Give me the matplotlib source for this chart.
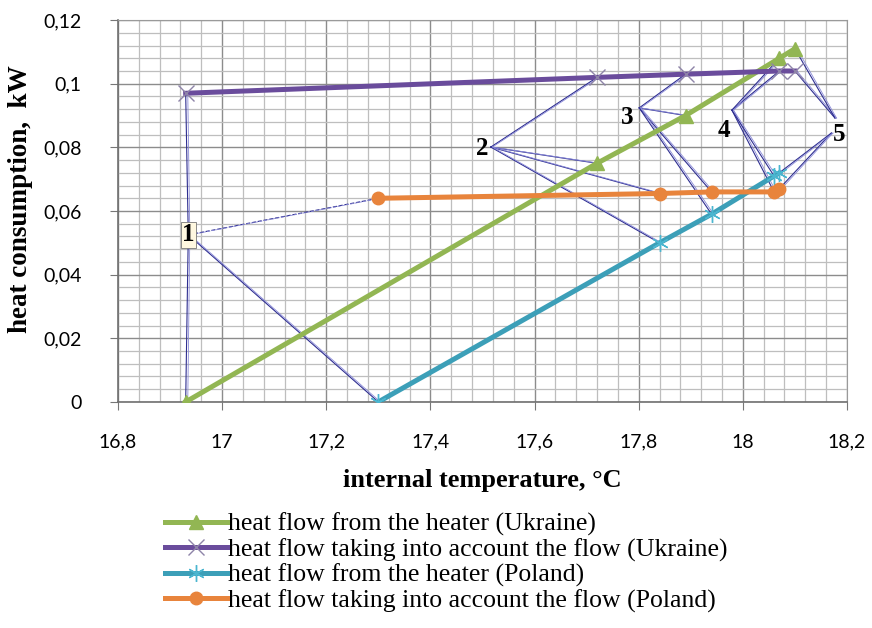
"""Heat consumption vs internal temperature — Ukraine / Poland comparison."""
import matplotlib
matplotlib.use("Agg")
import matplotlib.pyplot as plt
import numpy as np
from matplotlib.ticker import MultipleLocator, FuncFormatter

# Ukraine series (shared internal temperatures)
t_ua = [16.93, 17.72, 17.89, 18.07, 18.10]
q_ua_heater = [0.000, 0.075, 0.090, 0.108, 0.111]
q_ua_flow = [0.097, 0.102, 0.103, 0.104, 0.104]

# Poland series
t_pl = [17.30, 17.84, 17.94, 18.06, 18.07]
q_pl_heater = [0.000, 0.050, 0.059, 0.071, 0.072]
q_pl_flow = [0.064, 0.0655, 0.066, 0.066, 0.067]

# numbered callouts: text, text position, line anchor (upper, lower)
call_text = ["1", "2", "3", "4", "5"]
call_x = [16.935, 17.499, 17.778, 17.963, 18.185]
call_y = [0.0525, 0.0798, 0.0895, 0.0854, 0.0839]
anchor_top = [(16.935, 0.0525), (17.516, 0.0801), (17.801, 0.0924),
              (17.979, 0.0917), (18.177, 0.0892)]
anchor_bot = [(16.935, 0.0525), (17.516, 0.0801), (17.801, 0.0924),
              (17.979, 0.0917), (18.170, 0.0845)]

labels = ["heat flow from the heater (Ukraine)",
          "heat flow taking into account the flow (Ukraine)",
          "heat flow from the heater (Poland)",
          "heat flow taking into account the flow (Poland)"]

GREEN, PURPLE, CYAN, ORANGE = "#92B653", "#6A4C9C", "#3C9FB8", "#E8843C"
SERIF = ["Liberation Serif", "DejaVu Serif"]

fig = plt.figure(figsize=(8.72, 6.28), dpi=100)
ax = fig.add_axes([0.1353, 0.360, 0.836, 0.608])

# thin callout lines (drawn under the series)
for i in range(len(call_text)):
    if i == 0:
        top = [(t_ua[i], q_ua_flow[i]), (t_pl[i], q_pl_flow[i])]
        bot = [(t_ua[i], q_ua_heater[i]), (t_pl[i], q_pl_heater[i])]
    elif i >= 3:
        top = [(t_ua[i], q_ua_flow[i]), (t_ua[i], q_ua_heater[i])]
        bot = [(t_pl[i], q_pl_flow[i]), (t_pl[i], q_pl_heater[i])]
    else:
        top = [(t_ua[i], q_ua_flow[i]), (t_ua[i], q_ua_heater[i]),
               (t_pl[i], q_pl_flow[i])]
        bot = [(t_pl[i], q_pl_heater[i])]
    for anchor, targets in ((anchor_top[i], top), (anchor_bot[i], bot)):
        for tgt in targets:
            ls = "--" if (i == 0 and tgt == (t_pl[0], q_pl_flow[0])) else "-"
            ax.plot([anchor[0], tgt[0]], [anchor[1], tgt[1]], color="#2E2E90",
                    lw=0.8, ls=ls, zorder=2)
            ax.plot([anchor[0] + 0.003, tgt[0] + 0.004], [anchor[1], tgt[1]],
                    color="#8A8AD8", lw=0.6, ls=ls, zorder=2)

l1, = ax.plot(t_ua, q_ua_heater, color=GREEN, lw=3.6, marker="^", ms=10,
              mfc=GREEN, mec=GREEN, zorder=4)
l2, = ax.plot(t_ua, q_ua_flow, color=PURPLE, lw=3.6, marker="x", ms=11,
              mec="#8E84A8", mew=1.0, zorder=4)
l3, = ax.plot(t_pl, q_pl_heater, color=CYAN, lw=3.6, marker=(6, 2, 0), ms=12,
              mec="#4BB6D0", mew=1.0, zorder=4)
l4, = ax.plot(t_pl, q_pl_flow, color=ORANGE, lw=3.6, marker="o", ms=9,
              mfc=ORANGE, mec=ORANGE, zorder=4)

for i, s in enumerate(call_text):
    bbox = None
    if i == 0:
        bbox = dict(boxstyle="square,pad=0.06", fc="#FFF8E0", ec="#777777", lw=0.6)
    ax.text(call_x[i], call_y[i], s, family=SERIF, fontsize=18,
            fontweight="bold", ha="center", va="center", zorder=5, bbox=bbox)

ax.set_xlim(16.8, 18.2)
ax.set_ylim(0, 0.12)
ax.xaxis.set_major_locator(MultipleLocator(0.2))
ax.xaxis.set_minor_locator(MultipleLocator(0.04))
ax.yaxis.set_major_locator(MultipleLocator(0.02))
ax.yaxis.set_minor_locator(MultipleLocator(0.004))


def comma(v, pos):
    s = f"{v:.2f}".rstrip("0").rstrip(".")
    return s.replace(".", ",")


ax.xaxis.set_major_formatter(FuncFormatter(comma))
ax.yaxis.set_major_formatter(FuncFormatter(comma))
ax.grid(which="major", color="#8C8C8C", lw=1.0)
ax.grid(which="minor", color="#BEBEBE", lw=0.9)
ax.set_axisbelow(True)
ax.tick_params(which="major", direction="out", length=6, color="#777777",
               labelsize=14)
ax.tick_params(axis="x", pad=17)
ax.tick_params(axis="y", pad=20)
ax.tick_params(which="minor", length=0)
for lab in ax.get_xticklabels() + ax.get_yticklabels():
    lab.set_family(["Lato", "DejaVu Sans"])
for side in ("top", "right"):
    ax.spines[side].set_color("#9A9A9A")
for side in ("left", "bottom"):
    ax.spines[side].set_color("#707070")
    ax.spines[side].set_linewidth(1.2)

ax.set_xlabel("internal temperature, °C", family=SERIF, fontsize=19,
              fontweight="bold", labelpad=13)
ax.set_ylabel("heat consumption,  kW", family=SERIF, fontsize=19.5,
              fontweight="bold")
ax.yaxis.set_label_coords(-0.116, 0.53)

fig.legend([l1, l2, l3, l4], labels, loc="upper left",
           bbox_to_anchor=(0.189, 0.1836), frameon=False,
           prop={"family": SERIF, "size": 18.5}, handlelength=2.45,
           handletextpad=0.0, labelspacing=0.085, borderaxespad=0,
           borderpad=0)

fig.savefig("out.png", dpi=100)
print("wrote out.png")
